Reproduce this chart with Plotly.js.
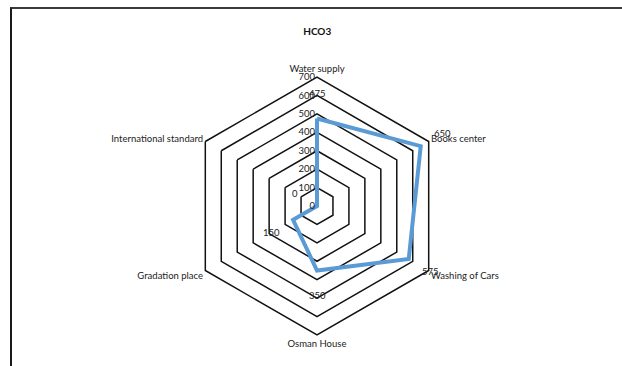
<!DOCTYPE html>
<html>
<head>
<meta charset="utf-8">
<script src="https://cdn.plot.ly/plotly-3.0.1.min.js"></script>
<style>
  html, body { margin: 0; padding: 0; background: #ffffff; }
  #wrap { position: relative; width: 622px; height: 366px; overflow: hidden; }
  #frame { position: absolute; left: 10px; top: 7px; width: 640px; height: 400px;
           border-top: 2px solid #3a3a3a; border-left: 2px solid #1a1a1a; pointer-events: none; }
  #chart { position: absolute; left: 0; top: 0; width: 622px; height: 366px; }
</style>
</head>
<body>
<div id="wrap">
  <div id="chart"></div>
  <div id="frame"></div>
</div>
<script>
// HCO3 concentration at each sampling site
const sites = ["Water supply", "Books center", "Washing of Cars", "Osman House", "Gradation place", "International standard"];
const hco3 = [475, 650, 575, 350, 150, 0];
const radialTicks = [0, 100, 200, 300, 400, 500, 600, 700];

const W = 622, H = 366;
const R_MAX = 700;
const polarDomain = { x: [0.3023, 0.7170], y: [0.0847, 0.7896] };
const fontFamily = "Lato, 'Liberation Sans', sans-serif";

// value labels: placed a fixed pixel distance outside each point,
// using the same centre/radius that the polar subplot uses
const LABEL_GAP_PX = 25;
const cx = (polarDomain.x[0] + polarDomain.x[1]) / 2;
const cy = (polarDomain.y[0] + polarDomain.y[1]) / 2;
const radiusPx = (polarDomain.x[1] - polarDomain.x[0]) * W / 2;
const valueLabels = hco3.map((v, i) => {
  const ang = i * 2 * Math.PI / sites.length;      // clockwise from top
  const rp = v / R_MAX * radiusPx + LABEL_GAP_PX;
  return {
    xref: "paper", yref: "paper",
    x: cx + rp * Math.sin(ang) / W,
    y: cy + rp * Math.cos(ang) / H,
    xanchor: "center", yanchor: "middle",
    text: String(v),
    showarrow: false,
    font: { family: fontFamily, size: 9.5, color: "#222" }
  };
});

const traces = [
  {
    type: "scatterpolar",
    r: hco3.concat([hco3[0]]),
    theta: sites.concat([sites[0]]),
    mode: "lines",
    line: { color: "#5B9BD5", width: 4 },
    hoverinfo: "skip",
    showlegend: false
  }
];

const layout = {
  width: W,
  height: H,
  margin: { l: 0, r: 0, t: 0, b: 0 },
  paper_bgcolor: "#ffffff",
  plot_bgcolor: "#ffffff",
  font: { family: fontFamily, size: 9.5, color: "#222" },
  title: {
    text: "<b>HCO3</b>",
    font: { family: fontFamily, size: 10, color: "#111" },
    x: 0.51, xanchor: "center",
    y: 0.915, yanchor: "middle"
  },
  annotations: valueLabels,
  polar: {
    domain: polarDomain,
    bgcolor: "#ffffff",
    gridshape: "linear",
    radialaxis: {
      range: [0, R_MAX],
      tickvals: radialTicks,
      ticktext: radialTicks.map(String),
      angle: 90,
      side: "counterclockwise",
      tickangle: 90,
      ticks: "",
      showline: false,
      showgrid: true,
      gridcolor: "#111",
      gridwidth: 1.5,
      tickfont: { family: fontFamily, size: 9.5, color: "#222" }
    },
    angularaxis: {
      type: "category",
      categoryarray: sites,
      direction: "clockwise",
      rotation: 90,
      showgrid: false,
      showline: true,
      linecolor: "#111",
      linewidth: 1.5,
      ticks: "",
      tickfont: { family: fontFamily, size: 9.5, color: "#222" }
    }
  }
};

Plotly.newPlot("chart", traces, layout, { displayModeBar: false, staticPlot: true });
</script>
</body>
</html>
